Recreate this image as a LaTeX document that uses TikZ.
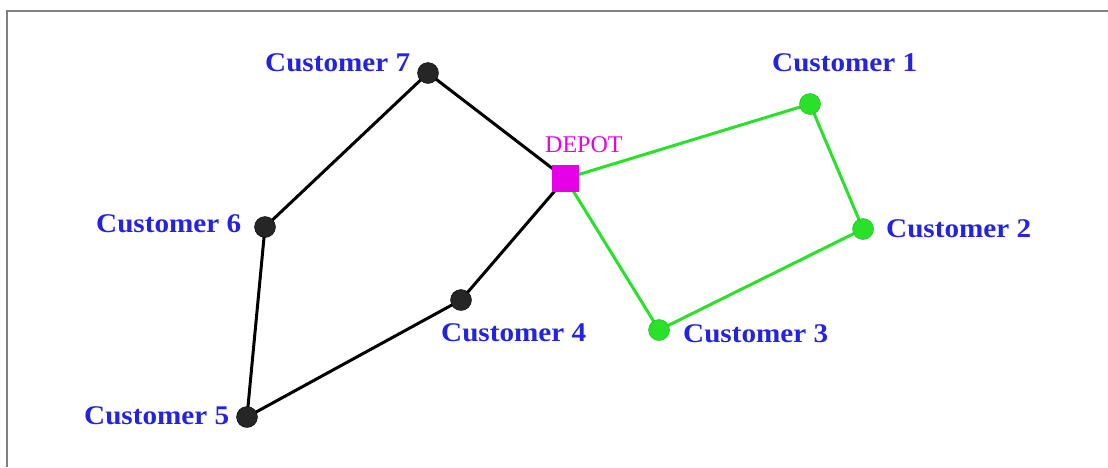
\documentclass[tikz,border=0pt]{standalone}
\usepackage{fontspec}
\setmainfont{Liberation Serif}
\newfontfamily\labelfont[FakeStretch=1.08]{Liberation Serif}
\usetikzlibrary{backgrounds}
\definecolor{custblue}{RGB}{35,35,225}
\definecolor{depotmag}{RGB}{230,0,230}
\definecolor{routegreen}{RGB}{40,225,40}
\definecolor{framegray}{RGB}{128,128,128}
\tikzset{
  blackstop/.style={circle,fill=black!85,draw=black,inner sep=0pt,minimum size=21pt},
  greenstop/.style={circle,fill=routegreen,draw=routegreen!85!black,line width=0.5pt,inner sep=0pt,minimum size=21pt},
  depotbox/.style={rectangle,fill=depotmag,inner sep=0pt,minimum size=27pt},
  custlabel/.style={text=custblue,font=\labelfont\fontsize{27}{30}\selectfont\bfseries,inner sep=0pt,anchor=west},
  blackroute/.style={line width=3pt,black,line cap=round},
  greenroute/.style={line width=3pt,routegreen,line cap=round},
}
\begin{document}
\begin{tikzpicture}[x=1pt,y=-1pt]
\useasboundingbox (0,0) rectangle (1108,467);
% frame edges
\coordinate (fbl) at (7,467);
\coordinate (ftl) at (7,11);
\coordinate (ftr) at (1108,11);
\draw[framegray,line width=2pt] (fbl) -- (ftl) -- (ftr);

% stops
\node[depotbox] (depot) at (565.5,178.5) {};
\node[blackstop] (c7) at (428,73) {};
\node[blackstop] (c6) at (265,227) {};
\node[blackstop] (c5) at (247,417) {};
\node[blackstop] (c4) at (461,300) {};
\node[greenstop] (c1) at (810,104) {};
\node[greenstop] (c2) at (863,229) {};
\node[greenstop] (c3) at (659,330) {};

% routes, kept behind the stops
\begin{scope}[on background layer]
\draw[blackroute] (depot.center) -- (c7.center) -- (c6.center) -- (c5.center) -- (c4.center) -- (depot.center);
\draw[greenroute] (depot.center) -- (c1.center) -- (c2.center) -- (c3.center) -- (depot.center);
\end{scope}

% labels
\node[text=depotmag,font=\fontsize{24}{28}\selectfont,inner sep=0pt,anchor=west] (ldepot) at (545,145) {DEPOT};
\node[custlabel] (l7) at (265,63) {Customer 7};
\node[custlabel] (l1) at (772,63) {Customer 1};
\node[custlabel] (l6) at (96,224) {Customer 6};
\node[custlabel] (l2) at (886,229) {Customer 2};
\node[custlabel] (l4) at (441,333) {Customer 4};
\node[custlabel] (l3) at (683,334) {Customer 3};
\node[custlabel] (l5) at (84,416) {Customer 5};
\end{tikzpicture}
\end{document}
